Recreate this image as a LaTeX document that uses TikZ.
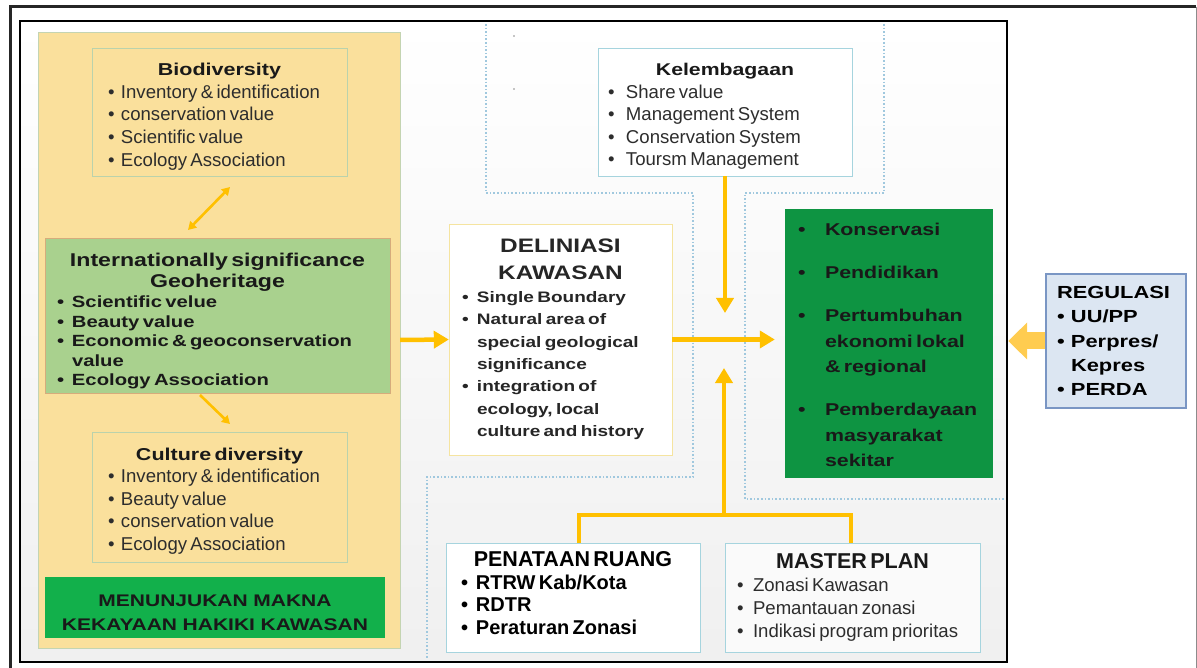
\documentclass[tikz,border=0pt]{standalone}
\usepackage{fontspec}
\setmainfont{Liberation Sans}
\newfontfamily\widebf{Liberation Sans}[FakeStretch=1.25]
\usetikzlibrary{arrows.meta}

\definecolor{panelyellow}{RGB}{250,224,156}
\definecolor{panelline}{RGB}{196,212,178}
\definecolor{sageline}{RGB}{186,210,172}
\definecolor{geogreen}{RGB}{169,209,142}
\definecolor{geoline}{RGB}{214,172,124}
\definecolor{makgreen}{RGB}{18,176,75}
\definecolor{outgreen}{RGB}{14,148,66}
\definecolor{tealline}{RGB}{166,212,222}
\definecolor{delline}{RGB}{245,228,160}
\definecolor{regfill}{RGB}{220,230,242}
\definecolor{regline}{RGB}{122,150,196}
\definecolor{arrowyellow}{RGB}{255,192,0}
\definecolor{fatyellow}{RGB}{255,204,80}
\definecolor{zoneblue}{RGB}{160,200,222}
\definecolor{txtgray}{RGB}{45,45,45}

\newcommand\fs[2]{\fontsize{#1}{#2}\selectfont}
\newcommand\itm[2][15pt]{\par\hangindent=#1\hangafter=1\noindent\makebox[#1][l]{\textbullet}#2}
% invisible struts to push a text block down (top) or up (bottom)
\newcommand\topstrut[1]{\rule{0pt}{#1}}
\newcommand\botstrut[1]{\rule[-#1]{0pt}{#1}}

\tikzset{
  box/.style={rectangle, inner ysep=0pt, align=left, text=txtgray,
    execute at begin node={\setlength\parindent{0pt}\setlength\parskip{0pt}}},
  zone/.style={draw=zoneblue, line width=1.6pt, dash pattern=on 1.6pt off 2pt},
  ylink/.style={draw=arrowyellow, line width=4.5pt},
  yarrow/.style={ylink, -{Triangle[width=17pt,length=15pt]}},
  thinarrow/.style={draw=arrowyellow, line width=2.6pt, -{Triangle[width=9pt,length=8pt]}},
  fatarrow/.style={draw=fatyellow, line width=17pt, -{Triangle[width=36pt,length=19pt]}},
}

\begin{document}
\begin{tikzpicture}[x=1pt, y=-1pt]
\useasboundingbox (0,0) rectangle (1197,668);

% frames
\draw[line width=3pt, black!85] (10,668) -- (10,7) -- (1196,7);
\draw[line width=1pt, black!45] (1196,7) -- (1196,668);
\draw[line width=2.5pt, top color=white, bottom color=black!6] (20,21) rectangle (1007,662);
\fill[black!45] (514,36) circle (0.9pt) (514,89) circle (0.9pt);

% dotted zones
\draw[zone] (486,24) -- (486,193) -- (693,193) -- (693,477) -- (427,477) -- (427,659);
\draw[zone] (884,24) -- (884,193) -- (745,193) -- (745,499) -- (1004,499);

% left panel
\node[draw=panelline, fill=panelyellow, minimum width=362pt, minimum height=616pt, inner sep=0pt] (panel) at (219,340) {};

\node[box, draw=sageline, minimum width=255pt, minimum height=128pt, inner xsep=16pt, text width=223pt] (bio) at (219.5,112) {%
{\centering\widebf\bfseries\fs{17.2}{22.6}\color{black!90}\topstrut{21.6pt}Biodiversity\par}
\fs{18.6}{22.6}%
\itm[13pt]{Inventory \& identification}
\itm[13pt]{conservation value}
\itm[13pt]{Scientific value}
\itm[13pt]{Ecology Association}\par};

\node[box, draw=geoline, fill=geogreen, text=black!90, minimum width=345pt, minimum height=155pt, inner xsep=12pt, text width=321pt] (geo) at (217.5,315.5) {%
{\centering\widebf\bfseries\fs{18.5}{21}\topstrut{25.2pt}Internationally significance\\Geoheritage\par}
\widebf\bfseries\fs{16.2}{19.6}%
\itm{Scientific velue}
\itm{Beauty value}
\itm{Economic \& geoconservation\newline value}
\itm{Ecology Association}\par};

\node[box, draw=sageline, minimum width=255pt, minimum height=130pt, inner xsep=16pt, text width=223pt] (cul) at (219.5,497) {%
{\centering\widebf\bfseries\fs{17.2}{22.6}\color{black!90}\topstrut{20.6pt}Culture diversity\par}
\fs{18.6}{22.6}%
\itm[13pt]{Inventory \& identification}
\itm[13pt]{Beauty value}
\itm[13pt]{conservation value}
\itm[13pt]{Ecology Association}\par};

\node[box, fill=makgreen, text=black!90, align=center, minimum width=340pt, minimum height=61pt, inner xsep=5pt, text width=330pt,
  font=\widebf\bfseries\fs{16.8}{24}] (mak) at (215,607.5) {\topstrut{21.2pt}MENUNJUKAN MAKNA\\KEKAYAAN HAKIKI KAWASAN};

\draw[thinarrow, {Triangle[width=9pt,length=8pt]}-{Triangle[width=9pt,length=8pt]}] (188,230) -- (230,187);
\draw[thinarrow] (200,395) -- (230,424);

% middle column
\node[box, draw=tealline, fill=white, minimum width=254pt, minimum height=128pt, inner xsep=10pt, text width=234pt] (kel) at (725,112) {%
{\centering\widebf\bfseries\fs{17}{22.6}\color{black!90}\topstrut{21.4pt}Kelembagaan\par}
\fs{18.6}{22.6}%
\itm[18pt]{Share value}
\itm[18pt]{Management System}
\itm[18pt]{Conservation System}
\itm[18pt]{Toursm Management}\par};

\node[box, draw=delline, fill=white, text=black!85, minimum width=223pt, minimum height=231pt, inner xsep=13pt, text width=197pt] (del) at (560.5,339.5) {%
{\centering\widebf\bfseries\fs{19.5}{27}DELINIASI\\KAWASAN\par}
\widebf\bfseries\fs{15.2}{22.4}%
\itm{Single Boundary}
\itm{Natural area of\newline special geological\newline significance}
\itm{integration of\newline ecology, local\newline culture and history}\par};

\node[box, draw=tealline, fill=white, text=black, minimum width=254pt, minimum height=109pt, inner xsep=15pt, text width=224pt] (pen) at (573,597.5) {%
{\centering\bfseries\fs{21.5}{23}PENATAAN RUANG\par}
\bfseries\fs{20}{22.5}%
\itm{RTRW Kab/Kota}
\itm{RDTR}
\itm{Peraturan Zonasi\botstrut{9pt}}\par};

\node[box, draw=tealline, fill=black!2, minimum width=255pt, minimum height=109pt, inner xsep=12pt, text width=231pt] (mst) at (852.5,597.5) {%
{\centering\bfseries\fs{21.5}{23}\color{black!90}MASTER PLAN\par}
\fs{18.6}{23.2}%
\itm[16pt]{Zonasi Kawasan}
\itm[16pt]{Pemantauan zonasi}
\itm[16pt]{Indikasi program prioritas}\par};

% right column
\node[box, fill=outgreen, text=black!90, minimum width=208pt, minimum height=269pt, inner xsep=13pt, text width=182pt] (grn) at (889,343.5) {%
\widebf\bfseries\fs{17.1}{25.5}%
\itm[27pt]{Konservasi}\par\vspace{17.5pt}
\itm[27pt]{Pendidikan}\par\vspace{17.5pt}
\itm[27pt]{Pertumbuhan\newline ekonomi lokal\newline \& regional}\par\vspace{17.5pt}
\itm[27pt]{Pemberdayaan\newline masyarakat\newline sekitar\botstrut{10pt}}\par};

\node[box, draw=regline, line width=1.3pt, fill=regfill, text=black, minimum width=140pt, minimum height=134pt, inner xsep=11pt, text width=118pt] (reg) at (1116,341) {%
\widebf\bfseries\fs{17.5}{24.3}%
REGULASI
\itm[14pt]{UU/PP}
\itm[14pt]{Perpres/\newline Kepres}
\itm[14pt]{PERDA}\par};

% connectors
\coordinate (bus) at (724,515);
\coordinate (downtip) at (725,313);
\coordinate (uptip) at (724,368);
\draw[yarrow] (panel.east) -- (del.west);
\draw[yarrow, shorten >=10pt] (del.east) -- (del.east -| grn.west);
\draw[yarrow] (kel.south) -- (downtip);
\draw[ylink] ([xshift=6pt]pen.north) |- (bus) -| ([xshift=-1.5pt]mst.north);
\draw[yarrow] (bus) -- (uptip);
\draw[fatarrow, shorten >=15pt] (reg.west) -- (reg.west -| grn.east);

\end{tikzpicture}
\end{document}
